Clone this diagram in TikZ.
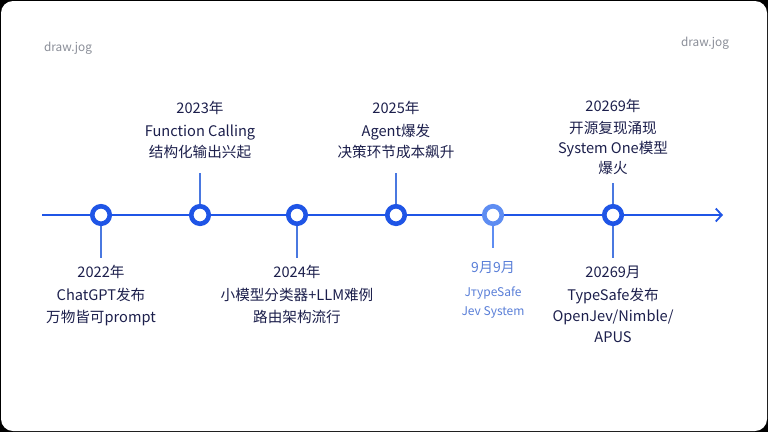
\documentclass[tikz,border=0pt]{standalone}
\usepackage{fontspec}
\setmainfont{Noto Sans CJK SC}
\usetikzlibrary{arrows.meta}
\definecolor{lineblue}{HTML}{1F55E6}
\definecolor{paleblue}{HTML}{5E8DF2}
\definecolor{tickblue}{HTML}{4A78E0}
\definecolor{inkblue}{HTML}{1C1F4C}
\definecolor{softblue}{HTML}{5A7FD8}
\definecolor{markgray}{HTML}{8A8E98}
\begin{document}
\begin{tikzpicture}[x=1pt, y=-1pt,
    dot/.style={circle, draw=lineblue, fill=white, line width=4.6pt, minimum size=17.5pt, inner sep=0pt},
    dot light/.style={dot, draw=paleblue},
    stem/.style={draw=tickblue, line width=1.1pt},
    event/.style={font=\fontsize{14.6}{21.5}\selectfont, text=inkblue, align=center, inner sep=0pt},
    event small/.style={font=\fontsize{12}{19}\selectfont, text=softblue, align=center, inner sep=0pt},
    watermark/.style={font=\fontsize{11.8}{13}\selectfont, text=markgray, inner sep=0pt}]
    % frame
    \fill[black] (0,0) rectangle (768,432);
    \fill[white, rounded corners=12pt] (1,1) rectangle (767,431);
    \useasboundingbox (0,0) rectangle (768,432);
    \node[watermark] (wm1) at (68,48) {draw.jog};
    \node[watermark] (wm2) at (705,43) {draw.jog};
    % axis
    \coordinate (start) at (42,215);
    \coordinate (end) at (723,215);
    \draw[lineblue, line width=2.8pt, -{Straight Barb[length=6pt, width=13pt, line width=1.8pt]}] (start) -- (end);
    % stem ends
    \coordinate (t22) at (101,258);
    \coordinate (t23) at (200,173);
    \coordinate (t24) at (297,258);
    \coordinate (t25) at (396,173);
    \coordinate (t26) at (493,248);
    \coordinate (t27) at (613,183);
    \coordinate (t28) at (613,258);
    \draw[stem] (101,215) -- (t22);
    \draw[stem] (200,215) -- (t23);
    \draw[stem] (297,215) -- (t24);
    \draw[stem] (396,215) -- (t25);
    \draw[stem, draw=paleblue] (493,215) -- (t26);
    \draw[stem] (613,215) -- (t27);
    \draw[stem] (613,215) -- (t28);
    % dots
    \node[dot] (d22) at (101,215) {};
    \node[dot] (d23) at (200,215) {};
    \node[dot] (d24) at (297,215) {};
    \node[dot] (d25) at (396,215) {};
    \node[dot light] (d26) at (493,215) {};
    \node[dot] (d27) at (613,215) {};
    % labels
    \node[event, anchor=north] (e22) at (101,265) {2022年\\[1.5pt]ChatGPT发布\\万物皆可prompt};
    \node[event, anchor=south] (e23) at (200,159) {2023年\\[1.5pt]Function Calling\\结构化输出兴起};
    \node[event, anchor=north] (e24) at (297,265) {2024年\\[1.5pt]小模型分类器+LLM难例\\路由架构流行};
    \node[event, anchor=south] (e25) at (396,159) {2025年\\[1.5pt]Agent爆发\\决策环节成本飙升};
    \node[event small, anchor=north] (e26) at (493,261) {\fontsize{14}{19}\selectfont 9月9月\\[5pt]JтypeSafe\\Jev System};
    \node[event, anchor=south, font=\fontsize{14.6}{20}\selectfont] (e27) at (613,175) {20269年\\[2pt]开源复现涌现\\System One模型\\爆火};
    \node[event, anchor=north, font=\fontsize{14.6}{21}\selectfont] (e28) at (613,266) {20269月\\[1.5pt]TypeSafe发布\\OpenJev/Nimble/\\APUS};
\end{tikzpicture}
\end{document}
